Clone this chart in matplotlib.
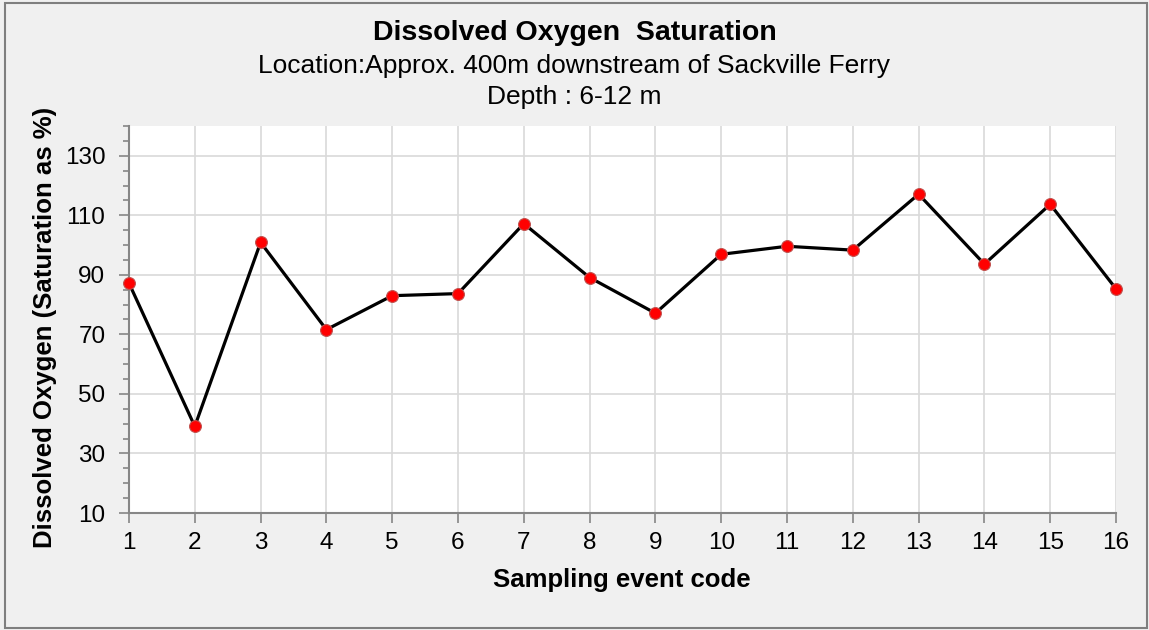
import matplotlib
matplotlib.use("Agg")
import matplotlib.pyplot as plt
from matplotlib.ticker import MultipleLocator

plt.rcParams['font.family'] = ['Liberation Sans', 'DejaVu Sans']

events = list(range(1, 17))
saturation = [87.2, 39.1, 100.9, 71.6, 83.0, 83.7, 107.2, 89.1, 77.1, 96.9,
              99.6, 98.3, 117.1, 93.6, 113.7, 85.3]

title = "Dissolved Oxygen  Saturation"
subtitle1 = "Location:Approx. 400m downstream of Sackville Ferry"
subtitle2 = "Depth : 6-12 m"
xlabel = "Sampling event code"
ylabel = "Dissolved Oxygen (Saturation as %)"

W, H = 1149, 630
fig = plt.figure(figsize=(W / 100, H / 100), dpi=100, facecolor='#f0f0f0')
# outer border
bx0, by0, bx1, by1 = 5, 3, 1147, 628
fig.patches.append(plt.Rectangle((bx0 / W, 1 - by1 / H), (bx1 - bx0) / W, (by1 - by0) / H,
                                 transform=fig.transFigure, fill=False,
                                 edgecolor='#7f7f7f', linewidth=1.5))

L, R, T, B = 129, 1116, 126, 513
ax = fig.add_axes([L / W, 1 - B / H, (R - L) / W, (B - T) / H])
ax.set_facecolor('white')

ax.plot(events, saturation, color='black', linewidth=2.3, zorder=3,
        marker='o', markersize=8.5, markerfacecolor='#ff0000',
        markeredgecolor='#c0504d', markeredgewidth=0.8, clip_on=False)

ax.set_xlim(1, 16)
ax.set_ylim(10, 140)
ax.set_xticks(events)
ax.set_yticks([10, 30, 50, 70, 90, 110, 130])
ax.yaxis.set_minor_locator(MultipleLocator(5))

ax.grid(True, which='major', color='#d9d9d9', linewidth=1.2, zorder=0)
ax.set_axisbelow(True)

for s in ['top', 'right']:
    ax.spines[s].set_visible(False)
for s in ['left', 'bottom']:
    ax.spines[s].set_color('#868686')
    ax.spines[s].set_linewidth(1.5)

ax.tick_params(axis='both', which='major', direction='out', length=7, width=1.2,
               color='#868686', labelsize=17.5, labelcolor='black')
ax.tick_params(axis='y', which='minor', direction='out', length=4.5, width=1.2, color='#868686')
ax.tick_params(axis='x', pad=7)
ax.tick_params(axis='y', pad=10)

ax.set_xlabel(xlabel, fontsize=18.5, fontweight='bold', va='center')
ax.set_ylabel(ylabel, fontsize=18.5, fontweight='bold', va='center')
ax.xaxis.set_label_coords((622 - L) / (R - L), -(580 - B) / (B - T))
ax.yaxis.set_label_coords(-(L - 45) / (R - L), (B - 327) / (B - T))

fig.text(0.5, 1 - 33 / H, title, ha='center', va='center', fontsize=20.5, fontweight='bold')
fig.text(0.5, 1 - 66 / H, subtitle1, ha='center', va='center', fontsize=19)
fig.text(0.5, 1 - 97 / H, subtitle2, ha='center', va='center', fontsize=19)

fig.savefig("out.png", dpi=100, facecolor=fig.get_facecolor())
